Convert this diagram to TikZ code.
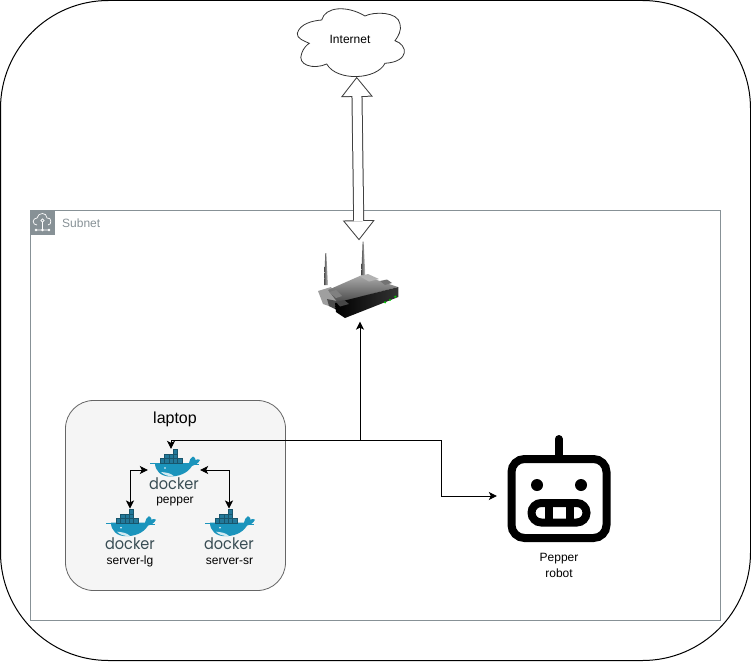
\documentclass[tikz,border=0pt]{standalone}
\usepackage{fontspec}
\setmainfont{Liberation Sans}
\newfontfamily\logofont{Poppins}
\usetikzlibrary{arrows.meta}
\usetikzlibrary{calc}
\definecolor{subnetgray}{HTML}{879196}
\definecolor{whaleblue}{HTML}{1B94BC}
\definecolor{blockblue}{HTML}{23799A}
\definecolor{logoink}{HTML}{394D54}
\newcommand{\dockerword}{\scalebox{1}[1.1]{docker}}
\tikzset{
    lbl/.style = {font=\fontsize{12}{14}\selectfont,inner sep=0pt},
    whalebox/.style = {minimum width=52pt,minimum height=42pt,inner sep=0pt},
    logo/.style = {font=\logofont\fontsize{14.5}{16}\selectfont,text=logoink,inner sep=0pt,anchor=base,text height=10pt,text depth=0pt},
    link/.style = {line width=0.9pt,-{Stealth[length=8pt,width=8pt,inset=2pt]}},
    twolink/.style = {line width=0.9pt,{Stealth[length=8pt,width=8pt,inset=2pt]}-{Stealth[length=8pt,width=8pt,inset=2pt]}},
    tube/.style = {line width=11pt,black!75,
        {Triangle[length=20pt,width=32pt,line width=0pt]}-{Triangle[length=20pt,width=32pt,line width=0pt]},
        postaction={draw,white,line width=9pt,shorten <=1.6pt,shorten >=1.6pt,
        {Triangle[length=17.4pt,width=27.8pt,line width=0pt]}-{Triangle[length=17.4pt,width=27.8pt,line width=0pt]}}},
    block/.style = {fill=blockblue,draw=blockblue!70!black,line width=0.25pt},
    whale/.pic = {
        \fill[whaleblue] (-19,-1) -- (15,-1) .. controls (15,-4) and (17,-6) .. (19,-7.5)
            .. controls (21,-7) and (21.5,-5) .. (21.5,-4) .. controls (23,-5) and (25,-5) .. (26,-4)
            .. controls (24,0) and (21,1) .. (18,2) .. controls (13,10) and (4,12.5) .. (-4,12.5)
            .. controls (-13,12.5) and (-19,7) .. (-19,-1) -- cycle;
        \fill[white!80!whaleblue] (-13,8) .. controls (-8,8.5) and (-3,9) .. (0,12.3)
            .. controls (-6,12.5) and (-10,11) .. (-13,8) -- cycle;
        \fill[white] (-9,4) circle (0.8);
        \foreach \bx in {-14,-9.6,-5.2,-0.8,3.6} \path[block] (\bx,-5.6) rectangle +(4.4,4.6);
        \foreach \bx in {-9.6,-5.2,-0.8} \path[block] (\bx,-10) rectangle +(4.4,4.4);
        \path[block] (-0.8,-14.4) rectangle +(4.4,4.4);
        \draw[whaleblue,line width=0.3pt] (-24,-0.7) -- (-18,-0.7) (15,0.6) -- (25,0.6);
    }}
\begin{document}
\begin{tikzpicture}[x=1pt,y=-1pt]
    \useasboundingbox (0,0) rectangle (751,661);
    \draw[line width=1pt,rounded corners=108pt] (0.5,0.5) rectangle (750.5,660.5);

    \draw[subnetgray,line width=1pt] (30.5,210.5) rectangle (720.5,620.5);
    \fill[subnetgray] (30,210) rectangle (55,235);
    \draw[white,line width=0.7pt] (37,225) .. controls (32,225) and (32,218) .. (37,218)
        .. controls (38,212) and (47,212) .. (47,218) .. controls (52,217) and (52,225) .. (48,225);
    \draw[white,line width=0.7pt] (42.5,220.5) circle (1.6) (42.5,222) -- (42.5,230) (36,230) -- (49,230);
    \fill[white] (36,230) circle (1.3) (42.5,230) circle (1.3) (49,230) circle (1.3);
    \node[lbl,text=subnetgray,anchor=west] (subnet) at (62,223) {Subnet};

    \draw[line width=0.8pt,black!80,fill=white] (297.3,33.3)
        .. controls (300,23.3) and (313.3,20.7) .. (321.7,20)
        .. controls (325,6.7) and (346.7,5) .. (365,16)
        .. controls (373.3,11.7) and (398,11) .. (400,24)
        .. controls (402,30) and (398,36.7) .. (395,40.7)
        .. controls (408,45) and (410,61.7) .. (385,63.3)
        .. controls (376.7,80) and (336.7,81.7) .. (326.7,64)
        .. controls (313.3,70) and (296.7,65) .. (301.7,53.3)
        .. controls (303.3,48.3) and (306.7,45) .. (309.3,43.3)
        .. controls (303.3,40.7) and (296.7,38.3) .. (297.3,33.3) -- cycle;
    \node[lbl,minimum width=110pt,minimum height=75.4pt] (internet) at (350,39) {Internet};

    \draw[rounded corners=28pt,draw=black!60,fill=black!4,line width=0.8pt] (65.5,400.5) rectangle (285.5,590.5);
    \node[font=\fontsize{16}{18}\selectfont,inner sep=0pt] (laptop) at (175,419) {laptop};

    \shade[left color=gray!60!black,right color=gray!40] (324,285) -- (325.3,253) -- (326.3,253) -- (328,285) -- cycle;
    \shade[left color=gray!60!black,right color=gray!40] (361.2,277) -- (362.6,241.7) -- (363.6,241.7) -- (365.4,277) -- cycle;
    \fill[gray!75] (318,291) -- (331,287) -- (339,300) -- (338,309) -- (323,304) -- cycle;
    \fill[black!70] (327,299) -- (337,301) -- (337,310) -- (329,306) -- cycle;
    \shade[top color=gray!65,bottom color=black!72] (328,290) -- (362,275) -- (398,287) -- (338,303) -- cycle;
    \fill[gray!60] (360,276.5) -- (368,274) -- (379,279) -- (369,281.5) -- cycle;
    \fill[black!55] (380,281) -- (387,279.5) -- (392,283) -- (385,285) -- cycle;
    \fill[black!50] (329,292) -- (336,290) -- (342,296) -- (336,298) -- cycle;
    \shade[left color=black,right color=black!80] (335,303) -- (398.3,287) -- (398.3,297) -- (345,318) -- (336,312) -- cycle;
    \fill[black!72] (336,302) -- (344,300) -- (349,304) -- (340,306.5) -- cycle;
    \fill[green!80!black] (385,302.3) circle (1.2) (390,300) circle (1.2) (395.3,296.7) circle (1.2);
    \node[whalebox,minimum width=84pt,minimum height=81pt] (router) at (360,281) {};

    \path (174,470) node[whalebox] (pepper) {}
        + (0,-6) pic {whale}
        + (0,19.5) node[logo] (pepperlogo) {\dockerword}
        + (1,32) node[lbl] (peppername) {pepper};
    \path (130,529.7) node[whalebox] (serverlg) {}
        + (0,-6) pic {whale}
        + (0,20) node[logo] (lglogo) {\dockerword}
        + (0,32) node[lbl] (lgname) {server-lg};
    \path (229,529.7) node[whalebox] (serversr) {}
        + (0,-6) pic {whale}
        + (0,20) node[logo] (srlogo) {\dockerword}
        + (0.5,32) node[lbl] (srname) {server-sr};

    \path (559,496) node[minimum width=124pt,minimum height=90pt,inner sep=0pt] (robot) {}
        + (0,63) node[lbl] (robotname) {Pepper}
        + (0,77) node[lbl] (robotkind) {robot};
    \draw[line width=8pt,line cap=round] (558.7,439) -- (558.7,458);
    \draw[line width=8pt,rounded corners=13pt] (511.5,459) rectangle (606.5,538);
    \fill (537,485) circle (6) (581,485) circle (6);
    \draw[line width=8pt,rounded corners=9.7pt] (531.5,503) rectangle (586.5,522.5);
    \draw[line width=8pt] (549,503) -- (549,522.5) (570,503) -- (570,522.5);

    \coordinate (hub) at (360,440);
    \coordinate (bend) at (441,440);
    \draw[tube] ([xshift=6.7pt]internet.south) -- ([xshift=-1pt]router.north);
    \draw[link] (hub) -- (router.south);
    \draw[link] (hub) -- (bend) |- (robot.west);
    \draw[link] (hub) -| ([xshift=-3pt]pepper.north);
    \draw[twolink] (pepper.west) -| (serverlg.north);
    \draw[twolink] (pepper.east) -| (serversr.north);
\end{tikzpicture}
\end{document}
